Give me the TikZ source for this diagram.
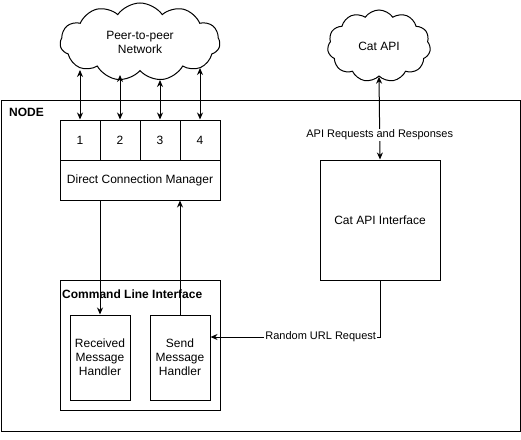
\documentclass[tikz,border=0pt]{standalone}
\usepackage{fontspec}
\setmainfont{Liberation Sans}
\usetikzlibrary{arrows.meta, positioning, shapes.symbols}

\begin{document}
\begin{tikzpicture}[
  x=1pt, y=-1pt,
  box/.style={draw, line width=1pt, inner sep=0pt, align=center,
    font=\fontsize{12}{14}\selectfont},
  port/.style={box, minimum width=40pt, minimum height=40pt},
  puff/.style={box, cloud, cloud puffs=11, cloud puff arc=110, cloud ignores aspect},
  lbl/.style={font=\fontsize{11}{13}\selectfont, fill=white, inner sep=1pt},
  title/.style={font=\fontsize{12}{14}\selectfont\bfseries, anchor=west, inner sep=0pt},
  >={Stealth[length=7pt, width=6pt]}
]
  \useasboundingbox (0,0) rectangle (521,439);

  % Container
  \node[box, minimum width=519pt, minimum height=331pt] (nodebox) at (260.5,265.5) {};
  \node[title] (nodelbl) at (9,112) {NODE};

  % Clouds
  \node[puff, minimum width=160pt, minimum height=78pt] (p2p) at (140,42)
    {Peer-to-peer\\Network};
  \node[puff, minimum width=103pt, minimum height=72pt] (catcloud) at (379,46)
    {Cat API};

  % Ports and connection manager
  \foreach \i/\x in {1/80, 2/120, 3/160, 4/200} {
    \node[port] (p\i) at (\x,140) {\i};
  }
  \node[box, minimum width=160pt, minimum height=40pt] (dcm) at (140,180)
    {Direct Connection Manager};

  % Cat API interface
  \node[box, minimum width=120pt, minimum height=120pt] (catif) at (380,220)
    {Cat API Interface};

  % Command line interface
  \node[box, minimum width=160pt, minimum height=130pt] (cli) at (140,345) {};
  \node[title] (clilbl) at (62,294) {Command Line Interface};
  \node[box, minimum width=60pt, minimum height=85pt] (rcv) at (100,357.5)
    {Received\\Message\\Handler};
  \node[box, minimum width=60pt, minimum height=85pt] (snd) at (180,357.5)
    {Send\\Message\\Handler};

  % Connections
  \foreach \i/\x/\y in {1/80/70, 2/120/75, 3/160/80, 4/200/68} {
    \coordinate (c\i) at (\x,\y);
    \draw[<->, line width=1pt] (c\i) -- (p\i.north);
  }
  \draw[<->, line width=1pt] (catcloud.south) --
    node[lbl, pos=0.7] {API Requests and Responses} (catif.north);
  \draw[->, line width=1pt] (rcv.north |- dcm.south) -- (rcv.north);
  \draw[->, line width=1pt] (snd.north) -- (snd.north |- dcm.south);
  \coordinate (url) at (380,337);
  \draw[->, line width=1pt] (catif.south) -- (url) --
    node[lbl, pos=0.35] {Random URL Request} (snd.east |- url);
\end{tikzpicture}
\end{document}
